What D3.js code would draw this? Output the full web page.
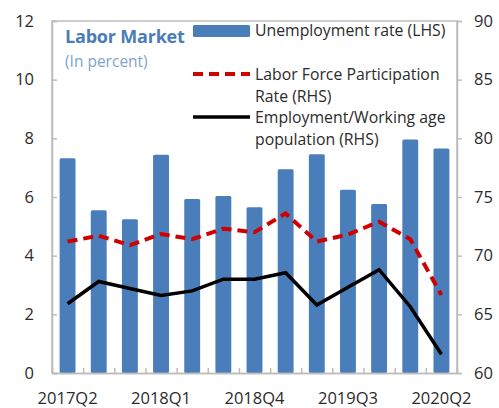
<!DOCTYPE html>
<html>
<head>
<meta charset="utf-8">
<script src="https://cdn.jsdelivr.net/npm/d3@7"></script>
<style>
  html, body { margin: 0; padding: 0; background: #fff; }
  svg { display: block; font-family: "Open Sans", "Noto Sans", sans-serif; }
</style>
</head>
<body>
<svg id="chart" width="499" height="408"></svg>
<script>
// Quarterly labor market indicators
const quarters = ["2017Q2", "2017Q3", "2017Q4", "2018Q1", "2018Q2", "2018Q3", "2018Q4",
                  "2019Q1", "2019Q2", "2019Q3", "2019Q4", "2020Q1", "2020Q2"];
const unemployment = [7.32, 5.55, 5.24, 7.44, 5.93, 6.03, 5.65, 6.95, 7.46, 6.25, 5.76, 7.96, 7.65];
const participation = [71.2, 71.7, 70.9, 71.85, 71.4, 72.3, 72.0, 73.6, 71.2, 71.8, 72.9, 71.4, 66.65];
const employmentRatio = [65.9, 67.8, 67.2, 66.6, 67.0, 68.0, 68.0, 68.55, 65.8, 67.3, 68.8, 65.65, 61.6];
const xTickLabels = ["2017Q2", "2018Q1", "2018Q4", "2019Q3", "2020Q2"];
const leftTicks = [0, 2, 4, 6, 8, 10, 12];
const rightTicks = [60, 65, 70, 75, 80, 85, 90];

const svg = d3.select("#chart");
const margin = { left: 52, right: 42, top: 21, bottom: 35 };
const W = 499, H = 408;
const x0 = margin.left, x1 = W - margin.right, y0 = H - margin.bottom, y1 = margin.top;

const x = d3.scaleBand().domain(quarters).range([x0, x1]).paddingInner(0.49).paddingOuter(0.245);
const xc = d => x(d) + x.bandwidth() / 2;
const yL = d3.scaleLinear().domain([0, 12]).range([y0, y1]);
const yR = d3.scaleLinear().domain([60, 90]).range([y0, y1]);

const frame = "#bdbdbd";
const textCol = "#2b2b2b";

// Bars: unemployment rate on the left axis
svg.append("g").selectAll("rect").data(quarters).join("rect")
  .attr("x", d => x(d))
  .attr("width", x.bandwidth())
  .attr("y", (d, i) => yL(unemployment[i]))
  .attr("height", (d, i) => y0 - yL(unemployment[i]))
  .attr("rx", 1.5)
  .attr("fill", "#4a7ebb");

// Lines on the right axis
const line = d3.line().x((d, i) => xc(quarters[i])).y(d => yR(d));
svg.append("path").datum(participation)
  .attr("d", line).attr("fill", "none")
  .attr("stroke", "#d00000").attr("stroke-width", 4)
  .attr("stroke-dasharray", "10,6");
svg.append("path").datum(employmentRatio)
  .attr("d", line).attr("fill", "none")
  .attr("stroke", "#000").attr("stroke-width", 3.5)
  .attr("stroke-linejoin", "miter");

// Plot frame
svg.append("path")
  .attr("d", `M${x0},${y0}V${y1}H${x1}V${y0}`)
  .attr("fill", "none").attr("stroke", frame).attr("stroke-width", 1.5);

// Left axis
svg.append("g").attr("transform", `translate(${x0},0)`)
  .call(d3.axisLeft(yL).tickValues(leftTicks).tickSize(-5).tickPadding(18));
// Right axis
svg.append("g").attr("transform", `translate(${x1},0)`)
  .call(d3.axisRight(yR).tickValues(rightTicks).tickSize(5).tickPadding(12));
// Bottom axis: ticks at band boundaries
const boundaries = quarters.slice(1).map(q => x(q) - x.step() * x.paddingInner() / 2);
const bScale = d3.scaleLinear().domain([x0, x1]).range([x0, x1]);
svg.append("g").attr("transform", `translate(0,${y0})`)
  .call(d3.axisBottom(bScale).tickValues(boundaries).tickSize(-5).tickFormat(""));
svg.append("g").attr("transform", `translate(0,${y0})`)
  .call(d3.axisBottom(x).tickValues(xTickLabels).tickSize(0).tickPadding(19));

svg.selectAll(".domain").attr("stroke", frame).attr("stroke-width", 1.5);
svg.selectAll(".tick line").attr("stroke", frame).attr("stroke-width", 1.5);
svg.selectAll(".tick text").attr("fill", textCol).style("font-size", "16.5px")
  .style("font-family", "'Open Sans', sans-serif");

// Title
svg.append("text").attr("x", 65).attr("y", 43)
  .attr("fill", "#4a7db5").style("font-size", "18px").style("font-weight", "bold")
  .style("letter-spacing", "-0.2px")
  .text("Labor Market");
svg.append("text").attr("x", 65).attr("y", 67)
  .attr("fill", "#7ea4cc").style("font-size", "15.5px")
  .text("(In percent)");

// Legend
const lg = svg.append("g");
const lx = 193, lw = 57, tx = 255;
lg.append("rect").attr("x", lx).attr("y", 25).attr("width", lw).attr("height", 12)
  .attr("rx", 1.5).attr("fill", "#4a7ebb");
lg.append("line").attr("x1", lx).attr("x2", lx + lw).attr("y1", 74).attr("y2", 74)
  .attr("stroke", "#d00000").attr("stroke-width", 4).attr("stroke-dasharray", "10,6");
lg.append("line").attr("x1", lx).attr("x2", lx + lw).attr("y1", 117).attr("y2", 117)
  .attr("stroke", "#000").attr("stroke-width", 3.5);
const legendLines = [
  ["Unemployment rate (LHS)", 36],
  ["Labor Force Participation", 80],
  ["Rate (RHS)", 102],
  ["Employment/Working age", 123],
  ["population (RHS)", 145]
];
lg.selectAll("text").data(legendLines).join("text")
  .attr("x", tx).attr("y", d => d[1])
  .attr("fill", textCol).style("font-size", "15.8px")
  .text(d => d[0]);
</script>
</body>
</html>
